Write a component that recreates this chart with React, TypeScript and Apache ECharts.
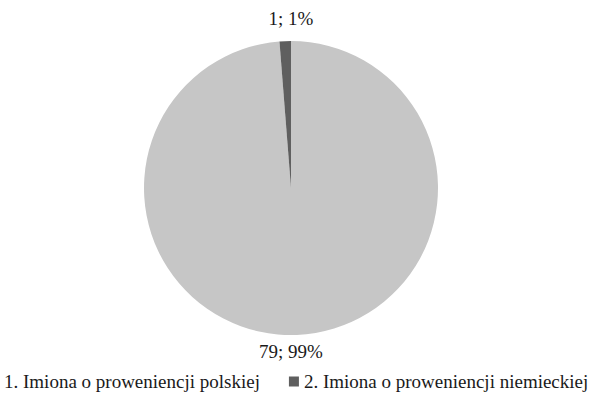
import React, { useEffect, useRef } from "react";
import * as echarts from "echarts";

const categories = [
  "1. Imiona o proweniencji polskiej",
  "2. Imiona o proweniencji niemieckiej",
];
const values = [79, 1];
const colors = ["#c6c6c6", "#5f5f5f"];

export default function App() {
  const ref = useRef<HTMLDivElement>(null);
  useEffect(() => {
    if (!ref.current) return;
    const chart = echarts.init(ref.current, undefined, { renderer: "svg" });
    const font = "'Liberation Serif', 'Times New Roman', serif";
    chart.setOption({
      animation: false,
      backgroundColor: "#ffffff",
      color: colors,
      legend: {
        orient: "horizontal",
        top: 372,
        left: -11,
        width: 700,
        padding: 0,
        itemWidth: 10,
        itemHeight: 10,
        itemGap: 29,
        icon: "rect",
        textStyle: { fontFamily: font, fontSize: 19, color: "#1a1a1a" },
        data: categories,
      },
      series: [
        {
          type: "pie",
          center: [291, 188],
          radius: 147,
          startAngle: 90,
          clockwise: true,
          percentPrecision: 0,
          data: categories.map((name, i) => ({ name, value: values[i] })),
          itemStyle: { borderWidth: 0 },
          emphasis: { disabled: true },
          label: {
            show: true,
            position: "outside",
            formatter: "{c}; {d}%",
            fontFamily: font,
            fontSize: 19,
            color: "#1a1a1a",
          },
          labelLine: { show: false },
          labelLayout: (params: any) => ({
            x: 291,
            y: params.dataIndex === 0 ? 351 : 18,
            align: "center",
            verticalAlign: "middle",
          }),
        },
      ],
    });
    return () => chart.dispose();
  }, []);
  return (
    <div
      ref={ref}
      style={{ position: "fixed", left: 0, top: 0, width: 600, height: 395 }}
    />
  );
}
